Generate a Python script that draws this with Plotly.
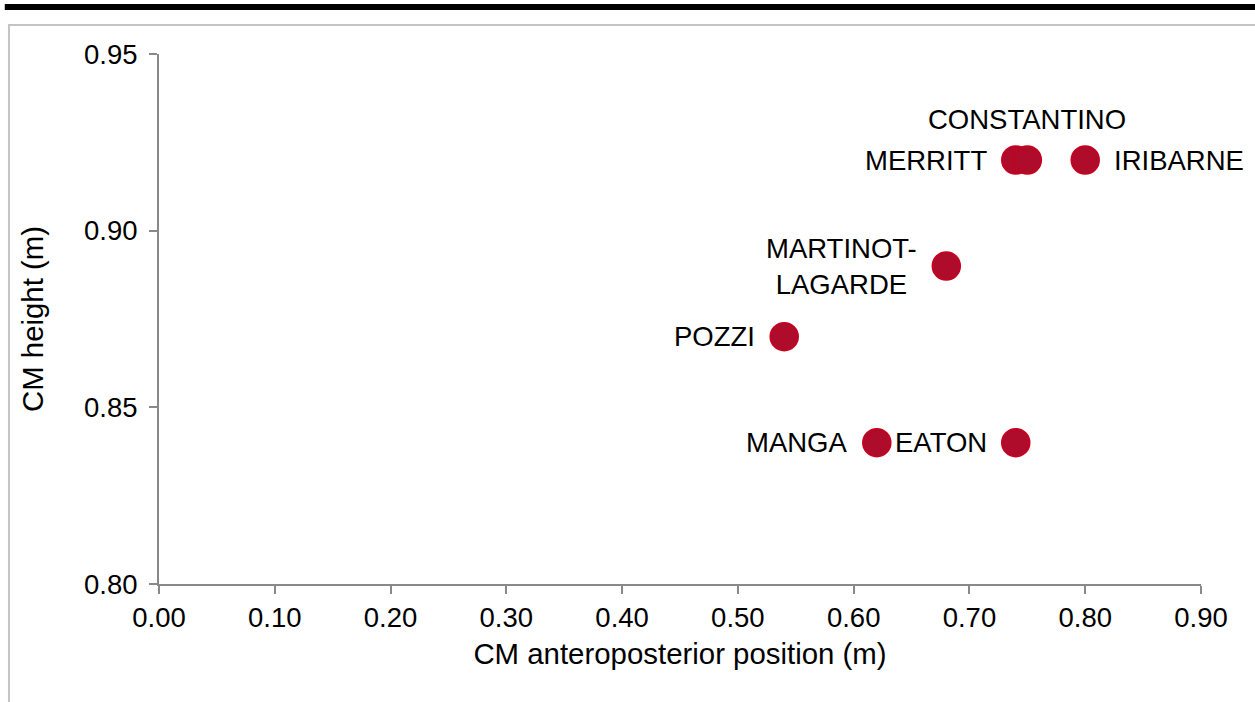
import plotly.graph_objects as go

# CM position of each athlete
names = ["MERRITT", "CONSTANTINO", "IRIBARNE", "MARTINOT-<br>LAGARDE", "POZZI", "MANGA", "EATON"]
cm_ap = [0.74, 0.75, 0.80, 0.68, 0.54, 0.62, 0.74]
cm_height = [0.92, 0.92, 0.92, 0.89, 0.87, 0.84, 0.84]
label_side = ["left", "top", "right", "left", "left", "left", "left"]

x_ticks = [0.0, 0.1, 0.2, 0.3, 0.4, 0.5, 0.6, 0.7, 0.8, 0.9]
y_ticks = [0.80, 0.85, 0.90, 0.95]

FONT = "Liberation Sans, Arial, sans-serif"
AXIS_COL = "#898989"

fig = go.Figure()
fig.add_trace(go.Scatter(
    x=cm_ap, y=cm_height, mode="markers",
    marker=dict(size=28, color="#AE0C2A", line=dict(color="#C8001E", width=1.5)),
    showlegend=False, hoverinfo="skip",
))

for n, x, y, side in zip(names, cm_ap, cm_height, label_side):
    if side == "left":
        fig.add_annotation(x=x, y=y, text=n, xanchor="right", yanchor="middle",
                           xshift=-27, showarrow=False, align="center")
    elif side == "right":
        fig.add_annotation(x=x, y=y, text=n, xanchor="left", yanchor="middle",
                           xshift=27, showarrow=False)
    else:
        fig.add_annotation(x=x, y=y, text=n, xanchor="center", yanchor="bottom",
                           yshift=23, showarrow=False)

# frame decorations around the chart
fig.add_shape(type="rect", xref="paper", yref="paper",
              x0=-0.144, x1=1.07, y0=-0.25, y1=1.0547,
              line=dict(color="#C4C4C4", width=2), layer="below")
fig.add_shape(type="line", xref="paper", yref="paper",
              x0=-0.148, x1=1.07, y0=1.0887, y1=1.0887,
              line=dict(color="black", width=6))

fig.update_layout(
    width=1255, height=702,
    margin=dict(l=159, r=54, t=54, b=118),
    plot_bgcolor="white", paper_bgcolor="white",
    font=dict(family=FONT, size=27.5, color="black"),
    xaxis=dict(
        range=[0, 0.9], tickvals=x_ticks, tickformat=".2f",
        showgrid=False, zeroline=False, showline=True,
        linecolor=AXIS_COL, linewidth=2, ticks="outside", tickcolor=AXIS_COL,
        ticklen=8, tickwidth=2, ticklabelstandoff=0,
        title=dict(text="CM anteroposterior position (m)", font=dict(size=29.4), standoff=11),
    ),
    yaxis=dict(
        range=[0.80, 0.95], tickvals=y_ticks, tickformat=".2f",
        showgrid=False, zeroline=False, showline=True,
        linecolor=AXIS_COL, linewidth=2, ticks="outside", tickcolor=AXIS_COL,
        ticklen=8, tickwidth=2, ticklabelstandoff=6,
        title=dict(text="CM height (m)", font=dict(size=29.4), standoff=32),
    ),
)

# drop the default page margin so the figure sits at the window corner
fig.write_html("out.html", config={"displayModeBar": False},
               post_script="document.body.style.margin='0px';")
